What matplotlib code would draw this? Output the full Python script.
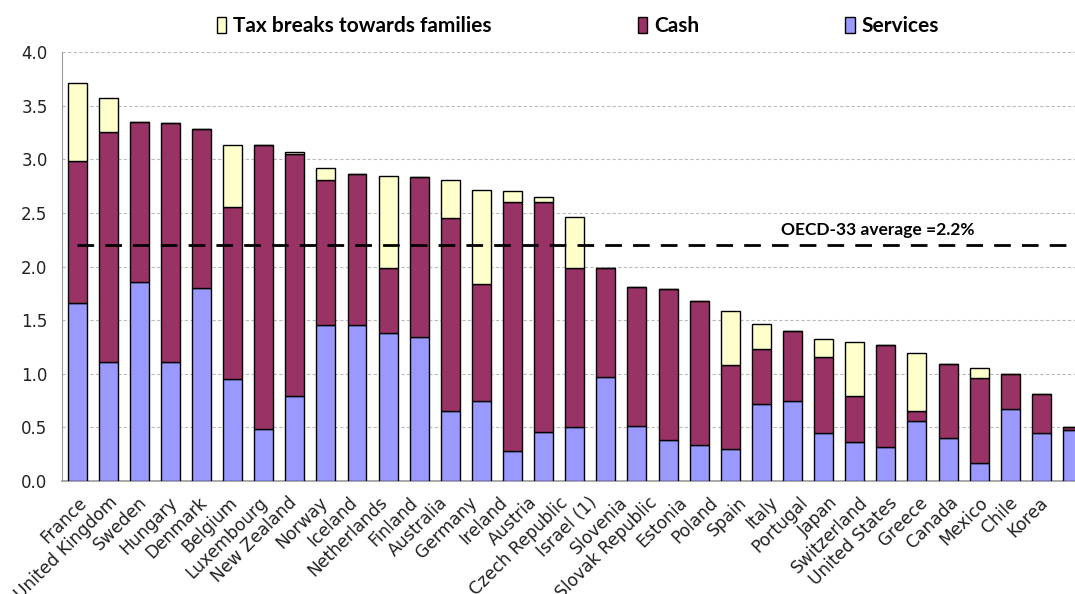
import matplotlib
matplotlib.use("Agg")
import matplotlib.pyplot as plt
import numpy as np
from matplotlib import font_manager

countries = ["France", "United Kingdom", "Sweden", "Hungary", "Denmark", "Belgium",
             "Luxembourg", "New Zealand", "Norway", "Iceland", "Netherlands", "Finland",
             "Australia", "Germany", "Ireland", "Austria", "Czech Republic", "Israel (1)",
             "Slovenia", "Slovak Republic", "Estonia", "Poland", "Spain", "Italy",
             "Portugal", "Japan", "Switzerland", "United States", "Greece", "Canada",
             "Mexico", "Chile", "Korea"]

# cumulative tops
services = [1.66, 1.11, 1.86, 1.11, 1.80, 0.95, 0.485, 0.795, 1.45, 1.45, 1.38, 1.345,
            0.655, 0.75, 0.28, 0.455, 0.505, 0.97, 0.515, 0.385, 0.34, 0.295, 0.715, 0.75,
            0.445, 0.36, 0.315, 0.56, 0.40, 0.165, 0.67, 0.445, 0.48]
cash_top = [2.985, 3.25, 3.35, 3.34, 3.28, 2.555, 3.135, 3.045, 2.805, 2.86, 1.99, 2.83,
            2.45, 1.835, 2.60, 2.60, 1.99, 1.99, 1.805, 1.79, 1.675, 1.08, 1.23, 1.395,
            1.16, 0.795, 1.27, 0.655, 1.09, 0.96, 0.995, 0.81, 0.505]
total_top = [3.71, 3.57, 3.35, 3.34, 3.28, 3.135, 3.135, 3.07, 2.915, 2.86, 2.845, 2.83,
             2.81, 2.715, 2.705, 2.645, 2.46, 1.99, 1.805, 1.79, 1.675, 1.585, 1.46, 1.395,
             1.325, 1.30, 1.27, 1.195, 1.09, 1.055, 0.995, 0.81, 0.505]
oecd_average = 2.2
yticks = [0.0, 0.5, 1.0, 1.5, 2.0, 2.5, 3.0, 3.5, 4.0]

services = np.array(services)
cash = np.array(cash_top) - services
tax = np.array(total_top) - np.array(cash_top)

avail = {f.name for f in font_manager.fontManager.ttflist}
legend_font = "Lato" if "Lato" in avail else "DejaVu Sans"
tick_font = "DejaVu Sans"

W, H = 1075, 594
fig = plt.figure(figsize=(W / 100, H / 100), dpi=100)
ax = fig.add_axes([61.5 / W, (H - 481) / H, (1088 - 61.5) / W, (481 - 52) / H])

x = np.arange(len(countries))
bw = 0.61
c_serv, c_cash, c_tax = "#9999FF", "#993366", "#FFFFCC"
ax.bar(x, services, bw, color=c_serv, edgecolor="black", linewidth=1, label="Services", zorder=3)
ax.bar(x, cash, bw, bottom=services, color=c_cash, edgecolor="black", linewidth=1, label="Cash", zorder=3)
ax.bar(x, tax, bw, bottom=np.array(cash_top), color=c_tax, edgecolor="black", linewidth=1,
       label="Tax breaks towards families", zorder=3)

ax.plot([0, len(countries) - 0.5], [oecd_average, oecd_average], color="black", lw=2,
        dashes=(6, 4), zorder=4)
ax.text(25.75, oecd_average + 0.07, "OECD-33 average =2.2%", fontsize=12.5, fontweight="bold",
        family=legend_font, ha="center", va="bottom")

ax.set_xlim(-0.5, len(countries) - 0.5)
ax.set_ylim(0, 4.0)
ax.set_yticks(yticks)
ax.set_yticklabels([f"{v:.1f}" for v in yticks], fontsize=12, color="#222222", family=tick_font)
ax.yaxis.grid(True, color="#BBBBBB", linestyle=(0, (3, 2)), linewidth=0.8, zorder=0)
ax.set_axisbelow(True)
# category labels in the reference drift slightly left of the bars (label pitch ~0.965 bar pitch)
ax.set_xticks(x * 0.965 + 0.03)
ax.set_xticklabels(countries, rotation=45, ha="right", rotation_mode="anchor", fontsize=12.3,
                   color="#222222", family=tick_font)
ax.tick_params(axis="y", length=0, pad=10)
ax.tick_params(axis="x", length=0, pad=9)
for s in ["top", "right"]:
    ax.spines[s].set_visible(False)
ax.spines["left"].set_color("#999999")
ax.spines["bottom"].set_color("#999999")
ax.spines["bottom"].set_linewidth(1.2)

h, l = ax.get_legend_handles_labels()
order = [2, 1, 0]
fig.legend([h[i] for i in order], [l[i] for i in order], loc="center",
           bbox_to_anchor=(578 / W, 1 - 26 / H), ncol=3, frameon=False,
           prop={"family": legend_font, "weight": "bold", "size": 15},
           columnspacing=7.0, handlelength=0.45, handleheight=0.8, handletextpad=0.35)

fig.savefig("out.png", dpi=100)
